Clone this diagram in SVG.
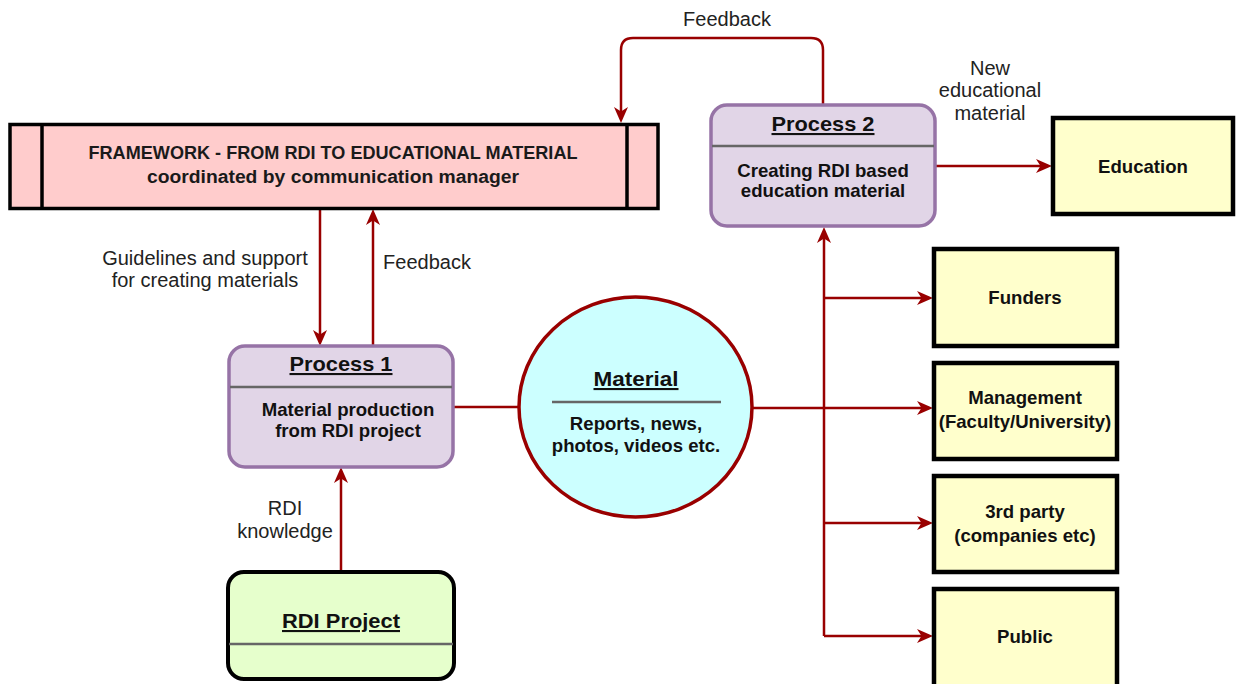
<svg xmlns="http://www.w3.org/2000/svg" width="1236" height="684" viewBox="0 0 1236 684">
<style>
text{font-family:"Liberation Sans",Arial,sans-serif;fill:#111;text-anchor:middle}
.lbl{font-size:20px;fill:#222}
.ttl{font-size:21px;font-weight:bold;text-decoration:underline}
.bd{font-size:18.6px;font-weight:bold}
.fw{font-size:17.5px;font-weight:bold;fill:#1a1a1a}
.proc{fill:#e1d5e7;stroke:#9673a6;stroke-width:3.5}
.ent{fill:#ffffcc;stroke:#000;stroke-width:4.5}
.div{stroke:#666;stroke-width:2.5}
.c{fill:none;stroke:#990000;stroke-width:2.5}
</style>
<defs>
<marker id="ah" viewBox="0 0 16 14" refX="12" refY="7" markerWidth="16" markerHeight="14" markerUnits="userSpaceOnUse" orient="auto">
<path d="M0,0 L16,7 L0,14 L4.5,7 Z" fill="#990000"/>
</marker>
</defs>
<rect width="1236" height="684" fill="#fff"/>
<g id="connectors">
<path class="c" d="M823,105 V50 Q823,38 811,38 H633 Q621,38 621,50 V119" marker-end="url(#ah)"/>
<path class="c" d="M936,166 H1048" marker-end="url(#ah)"/>
<path class="c" d="M320,209 V342" marker-end="url(#ah)"/>
<path class="c" d="M373,346 V213" marker-end="url(#ah)"/>
<path class="c" d="M341,571 V471" marker-end="url(#ah)"/>
<path class="c" d="M453,407 H519"/>
<path class="c" d="M752,408 H929" marker-end="url(#ah)"/>
<path class="c" d="M824,636 V231" marker-end="url(#ah)"/>
<path class="c" d="M824,298 H929" marker-end="url(#ah)"/>
<path class="c" d="M824,523 H929" marker-end="url(#ah)"/>
<path class="c" d="M824,636 H929" marker-end="url(#ah)"/>
<text class="lbl" x="727" y="26">Feedback</text>
<text class="lbl" x="990" y="75">New</text>
<text class="lbl" x="990" y="97">educational</text>
<text class="lbl" x="990" y="120">material</text>
<text class="lbl" x="205" y="265">Guidelines and support</text>
<text class="lbl" x="205" y="287">for creating materials</text>
<text class="lbl" x="427" y="269">Feedback</text>
<text class="lbl" x="285" y="515">RDI</text>
<text class="lbl" x="285" y="538">knowledge</text>
</g>
<g id="framework">
<rect x="10" y="124.5" width="648" height="84" fill="#ffcccc" stroke="#000" stroke-width="3.5"/>
<line x1="42" y1="124.5" x2="42" y2="208.5" stroke="#000" stroke-width="3.5"/>
<line x1="627" y1="124.5" x2="627" y2="208.5" stroke="#000" stroke-width="3.5"/>
<text class="fw" x="333" y="159" textLength="489" lengthAdjust="spacingAndGlyphs">FRAMEWORK - FROM RDI TO EDUCATIONAL MATERIAL</text>
<text class="fw" x="333" y="183" textLength="372" lengthAdjust="spacingAndGlyphs">coordinated by communication manager</text>
</g>
<g id="process2">
<rect class="proc" x="711" y="105" width="224" height="121" rx="16"/>
<line class="div" x1="712" y1="146" x2="934" y2="146"/>
<text class="ttl" x="823" y="131" textLength="103" lengthAdjust="spacingAndGlyphs">Process 2</text>
<text class="bd" x="823" y="177">Creating RDI based</text>
<text class="bd" x="823" y="197">education material</text>
</g>
<g id="education">
<rect class="ent" x="1053" y="118" width="180" height="96"/>
<text class="bd" x="1143" y="173">Education</text>
</g>
<g id="process1">
<rect class="proc" x="229" y="346" width="224" height="121" rx="16"/>
<line class="div" x1="230" y1="387" x2="452" y2="387"/>
<text class="ttl" x="341" y="371" textLength="103" lengthAdjust="spacingAndGlyphs">Process 1</text>
<text class="bd" x="348" y="416">Material production</text>
<text class="bd" x="348" y="437">from RDI project</text>
</g>
<g id="material">
<ellipse cx="635.5" cy="407" rx="116.5" ry="110" fill="#ccffff" stroke="#990000" stroke-width="3.5"/>
<line class="div" x1="552" y1="402" x2="721" y2="402"/>
<text class="ttl" x="636" y="386" textLength="85" lengthAdjust="spacingAndGlyphs">Material</text>
<text class="bd" x="636" y="430">Reports, news,</text>
<text class="bd" x="636" y="452">photos, videos etc.</text>
</g>
<g id="rdi-project">
<rect x="228" y="572" width="226" height="107" rx="16" fill="#e6ffcc" stroke="#000" stroke-width="4"/>
<line class="div" x1="229" y1="644" x2="453" y2="644"/>
<text class="ttl" x="341" y="628" textLength="118" lengthAdjust="spacingAndGlyphs">RDI Project</text>
</g>
<g id="funders">
<rect class="ent" x="934" y="249" width="183" height="97"/>
<text class="bd" x="1025" y="304">Funders</text>
</g>
<g id="management">
<rect class="ent" x="934" y="363" width="183" height="96"/>
<text class="bd" x="1025" y="404">Management</text>
<text class="bd" x="1025" y="428">(Faculty/University)</text>
</g>
<g id="third-party">
<rect class="ent" x="934" y="476" width="183" height="96"/>
<text class="bd" x="1025" y="518">3rd party</text>
<text class="bd" x="1025" y="542">(companies etc)</text>
</g>
<g id="public">
<rect class="ent" x="934" y="589" width="183" height="100"/>
<text class="bd" x="1025" y="643">Public</text>
</g>
</svg>
